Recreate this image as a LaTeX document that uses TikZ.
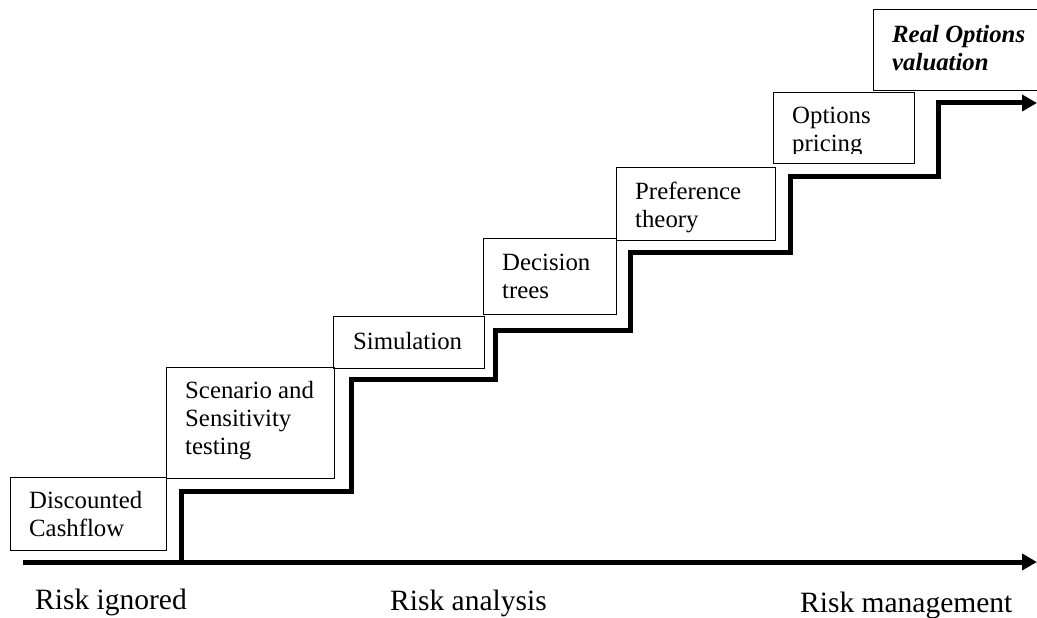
\documentclass[tikz,border=0pt]{standalone}
\usepackage{fontspec}
\setmainfont{Liberation Serif}
\usetikzlibrary{calc,arrows.meta}
\newcommand\boxfnt{\fontsize{24.8}{28}\selectfont}
\newcommand\riskfnt{\fontsize{29.5}{32}\selectfont}
\tikzset{
  stepbox/.style={draw=black, line width=1.3pt, inner sep=0pt, anchor=north west},
  boxtext/.style={inner sep=0pt, anchor=base west, font=\boxfnt},
  risklbl/.style={inner sep=0pt, anchor=base west, font=\riskfnt},
  stair/.style={line width=5pt, miter limit=10, -{Triangle[length=15pt,width=16pt]}},
}
\newcommand\tx[1]{\parbox[t]{220pt}{\raggedright #1}}
\begin{document}
\begin{tikzpicture}[x=1pt,y=-1pt]
\useasboundingbox (0,0) rectangle (1037,618);
\clip (0,0) rectangle (1037,618);
% boxes
\node[stepbox, minimum width=156pt, minimum height=73pt] (b1) at (10,477) {};
\node[stepbox, minimum width=168pt, minimum height=111pt] (b2) at (166,367) {};
\node[stepbox, minimum width=151pt, minimum height=52pt] (b3) at (333,316) {};
\node[stepbox, minimum width=133pt, minimum height=76pt] (b4) at (483,238) {};
\node[stepbox, minimum width=159pt, minimum height=73pt] (b5) at (616,167) {};
\node[stepbox, minimum width=141pt, minimum height=71pt] (b6) at (773,92) {};
\node[stepbox, minimum width=190pt, minimum height=81pt] (b7) at (873,9) {};
% box texts
\node[boxtext] (t1) at ($(b1.north west)+(19,31)$) {\tx{Discounted\\Cashflow}};
\node[boxtext] (t2) at ($(b2.north west)+(19,31)$) {\tx{Scenario and\\Sensitivity\\testing}};
\node[boxtext] (t3) at ($(b3.north west)+(20,33)$) {\tx{Simulation}};
\node[boxtext] (t4) at ($(b4.north west)+(19,32)$) {\tx{Decision\\trees}};
\node[boxtext] (t5) at ($(b5.north west)+(19,32)$) {\tx{Preference\\theory}};
\begin{scope}
\clip (773,92) rectangle (914,153);
\node[boxtext] (t6) at ($(b6.north west)+(19,32)$) {\tx{Options\\pricing}};
\end{scope}
\node[boxtext] (t7) at ($(b7.north west)+(19,34)$) {\tx{\bfseries\itshape Real Options\\valuation}};
% axis
\coordinate (axs) at (23,562);
\coordinate (axe) at (1037,562);
\draw[line width=5pt, -{Triangle[length=15pt,width=16pt]}] (axs) -- (axe);
% staircase
\coordinate (s0) at (181,562);
\coordinate (se) at (1037,103);
\draw[stair] (s0) -- (181,491) -- (351,491) -- (351,379) -- (495,379) -- (495,330)
  -- (630,330) -- (630,252) -- (790,252) -- (790,176) -- (938,176) -- (938,103) -- (se);
% labels
\node[risklbl] (r1) at (35,609) {Risk ignored};
\node[risklbl] (r2) at (390,610) {Risk analysis};
\node[risklbl] (r3) at (800,612) {Risk management};
\end{tikzpicture}
\end{document}
